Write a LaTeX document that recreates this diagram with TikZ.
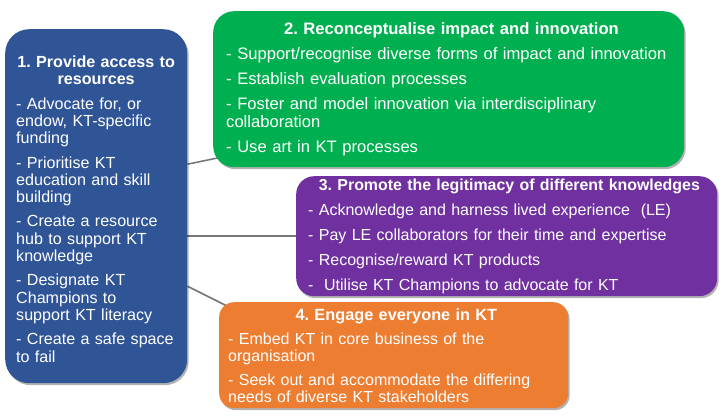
\documentclass[tikz,border=0pt]{standalone}
\usepackage{fontspec}
\setmainfont{Liberation Sans}
\usetikzlibrary{calc, shadows, backgrounds}
\definecolor{resblue}{RGB}{47,85,151}
\definecolor{impgreen}{RGB}{0,176,80}
\definecolor{legpurple}{RGB}{112,48,160}
\definecolor{engorange}{RGB}{237,125,49}
\definecolor{linkgray}{RGB}{120,120,120}
\frenchspacing
\newcommand{\boxtitle}[2][]{{\centering\bfseries#1 #2\par}}
\tikzset{
	theme/.style={rectangle, anchor=north west, text=white, inner ysep=0pt,
		execute at begin node={\setlength{\parskip}{7pt}\raggedright},
		drop shadow={shadow xshift=1.5pt, shadow yshift=-2pt, opacity=0.3, fill=black}},
	link/.style={draw=linkgray, line width=1.6pt},
}

\begin{document}
\begin{tikzpicture}[x=1pt, y=-1pt]
	\useasboundingbox (0,0) rectangle (724,416);
	
	\node (res) [theme, fill=resblue, rounded corners=24pt, inner xsep=11pt, text width=160pt, minimum width=182pt, minimum height=354pt, font=\fontsize{16.1}{17.3}\selectfont] at (5,29) {%
		\boxtitle{\makebox[\linewidth]{1. Provide access to}\newline resources}
		- Advocate for, or\newline endow, KT-specific\newline funding\par
		- Prioritise KT\newline education and skill\newline building\par
		- Create a resource\newline hub to support KT\newline knowledge\par
		- Designate KT\newline Champions to\newline support KT literacy\par
		- Create a safe space\newline to fail};
	
	\node (impact) [theme, fill=impgreen, rounded corners=21pt, inner xsep=13pt, text width=445pt, minimum width=471pt, minimum height=156pt, font=\fontsize{16.6}{18}\selectfont] at (213,11) {%
		\boxtitle{2. Reconceptualise impact and innovation}
		- Support/recognise diverse forms of impact and innovation\par
		- Establish evaluation processes\par
		- Foster and model innovation via interdisciplinary\newline collaboration\par
		- Use art in KT processes};
	
	\node (know) [theme, fill=legpurple, rounded corners=18pt, inner xsep=12pt, text width=397pt, minimum width=421pt, minimum height=120pt, font=\fontsize{16}{18}\selectfont] at (296,176) {%
		\boxtitle[\fontsize{15.9}{18}\selectfont]{3. Promote the legitimacy of different knowledges}
		- Acknowledge and harness lived experience\ \ (LE)\par
		- Pay LE collaborators for their time and expertise\par
		- Recognise/reward KT products\par
		-\ \ Utilise KT Champions to advocate for KT};
	
	\node (engage) [theme, fill=engorange, rounded corners=15pt, inner xsep=9pt, text width=331pt, minimum width=349pt, minimum height=106pt, font=\fontsize{16}{17}\selectfont] at (219,302) {%
		\boxtitle[\fontsize{16.3}{17}\selectfont]{4. Engage everyone in KT}
		- Embed KT in core business of the\newline organisation\par
		- Seek out and accommodate the differing\newline needs of diverse KT stakeholders};
	
	\begin{scope}[on background layer]
		\draw[link] ($(res.east)+(0,-42)$) -- ($(impact.south west)+(22,-13)$);
		\draw[link] (res.east |- know.west) -- (know.west);
		\draw[link] ($(res.east)+(0,80)$) -- ($(engage.north west)+(16,8)$);
	\end{scope}
	
\end{tikzpicture}
\end{document}
